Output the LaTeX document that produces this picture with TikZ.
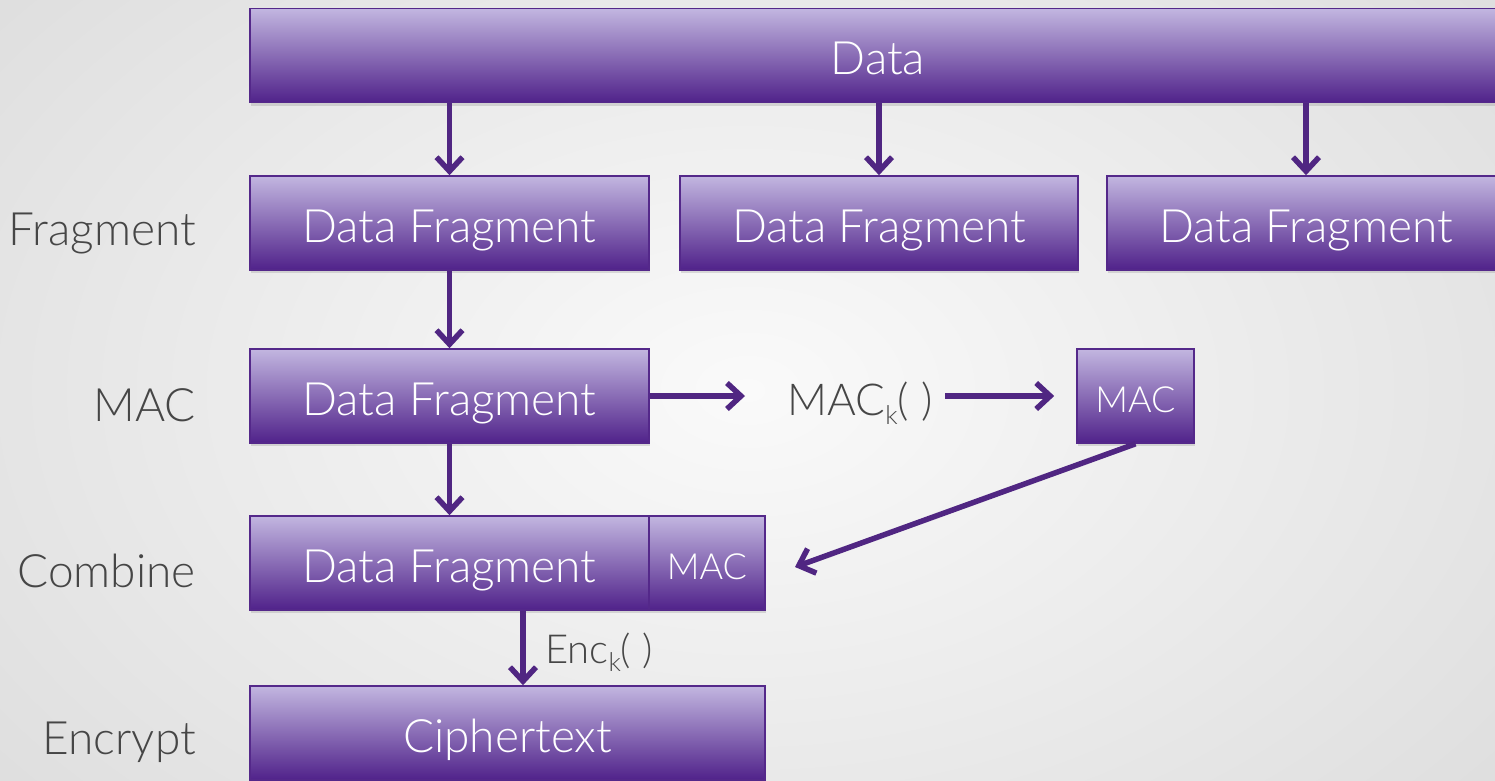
\documentclass[tikz,border=0pt]{standalone}
\usepackage{fontspec}
\setmainfont{Lato Light}
\usetikzlibrary{arrows.meta,shadows,calc}
\definecolor{boxtop}{RGB}{194,182,224}
\definecolor{boxmid}{RGB}{140,112,190}
\definecolor{boxbot}{RGB}{80,34,138}
\definecolor{edgec}{RGB}{84,40,138}
\definecolor{linkc}{RGB}{80,38,130}
\definecolor{labelc}{RGB}{70,70,70}
\definecolor{bgin}{RGB}{250,250,250}
\definecolor{bgout}{RGB}{220,220,220}
\newcommand{\subk}{\raisebox{-0.45ex}{\fontsize{26}{26}\selectfont k}}
\begin{document}
\begin{tikzpicture}[x=1pt,y=-1pt,
  box/.style={draw=edgec, line width=1.6pt, top color=boxtop, middle color=boxmid,
    bottom color=boxbot, inner sep=0pt, text=white, text depth=0pt,
    drop shadow={opacity=0.25, shadow xshift=1pt, shadow yshift=-3pt}},
  bigtxt/.style={font=\fontsize{46}{46}\selectfont, text height=38pt},
  smalltxt/.style={font=\fontsize{36}{36}\selectfont, text height=32pt},
  steplabel/.style={anchor=base east, text=labelc, inner sep=0pt, font=\fontsize{46}{46}\selectfont},
  link/.style={draw=linkc, line width=5.5pt, -{Straight Barb[length=14pt,width=26pt,line width=5.5pt]}}
]
\useasboundingbox (0,0) rectangle (1495,780);
\clip (0,0) rectangle (1495,780);
% background
\shade[inner color=bgin, outer color=bgout] (-300,-300) rectangle (1795,1080);

% source data
\node[box, bigtxt, minimum width=1256pt, minimum height=94pt] (data) at (878,55.5) {Data};

% fragments
\node[box, bigtxt, minimum width=399pt, minimum height=94pt] (f1) at (449.5,223) {Data Fragment};
\node[box, bigtxt, minimum width=398pt, minimum height=94pt] (f2) at (879,223) {Data Fragment};
\node[box, bigtxt, minimum width=398pt, minimum height=94pt] (f3) at (1306,223) {Data Fragment};

% MAC stage
\node[box, bigtxt, minimum width=399pt, minimum height=94pt] (m1) at (449.5,396) {Data Fragment};
\node[anchor=base, text=labelc, inner sep=0pt, font=\fontsize{44}{44}\selectfont] (mack) at (860,415) {MAC\subk( )};
\node[box, smalltxt, minimum width=117pt, minimum height=94pt] (mac) at (1135.5,396) {MAC};

% combined
\node[box, bigtxt, minimum width=399pt, minimum height=94pt] (c1) at (449.5,563) {Data Fragment};
\node[box, smalltxt, minimum width=116pt, minimum height=94pt] (cmac) at (707,563) {MAC};

% ciphertext
\node[box, bigtxt, minimum width=515pt, minimum height=94pt] (ct) at (507.5,733) {Ciphertext};

% step labels
\node[steplabel] (lf) at (196,245) {Fragment};
\node[steplabel] (lm) at (196,421) {MAC};
\node[steplabel] (lc) at (196,587) {Combine};
\node[steplabel] (le) at (196,754) {Encrypt};

% connectors
\draw[link] (data.south -| f1) -- (f1.north);
\draw[link] (data.south -| f2) -- (f2.north);
\draw[link] (data.south -| f3) -- (f3.north);
\draw[link] (f1.south) -- (m1.north);
\draw[link] (m1.south) -- (c1.north);
\coordinate (mackin) at (745,396);
\coordinate (mackout) at (945,396);
\draw[link] (m1.east) -- (mackin);
\draw[link, shorten >=22pt] (mackout) -- (mackout -| mac.west);
\coordinate (macin) at (795,567);
\draw[link] (mac.south) -- (macin);
\coordinate (encx) at (523,0);
\draw[link] (c1.south -| encx) -- (ct.north -| encx);
\node[anchor=base west, text=labelc, inner sep=0pt, font=\fontsize{40}{40}\selectfont] (enc) at (545,663) {Enc\subk( )};
\end{tikzpicture}
\end{document}
